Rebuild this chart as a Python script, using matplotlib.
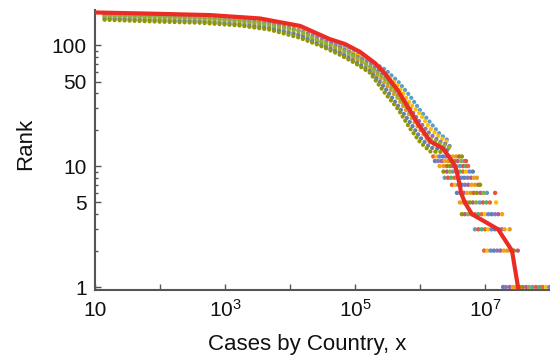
import matplotlib
matplotlib.use('Agg')
import matplotlib.pyplot as plt
from matplotlib.ticker import NullLocator, FixedLocator

plt.rcParams['font.family'] = ['Liberation Sans', 'DejaVu Sans']
plt.rcParams['mathtext.fontset'] = 'custom'
plt.rcParams['mathtext.rm'] = 'Liberation Sans'
plt.rcParams['mathtext.it'] = 'Liberation Sans:italic'

# observed cases per country, sorted by rank
OBS_RANK = [186, 182, 177, 166, 144, 112, 102, 88, 71, 58, 42, 23, 16, 14, 11,
            10, 9, 8, 7, 6, 5, 4, 3, 2, 1]
OBS_CASES = [10, 70, 590, 3450, 14300, 41000, 70000, 119000, 203000, 290000,
             459000, 899000, 1.43e6, 2.26e6, 3.1e6, 3.46e6, 3.7e6, 3.84e6,
             4.1e6, 4.27e6, 4.9e6, 6.3e6, 1.59e7, 2.6e7, 3.22e7]

# simulated runs: rank reached at each case level (ranks above ~13)
SIM_CASES = [14, 35, 100, 400, 1700, 4900, 14000, 29000, 59000, 1.0e5, 1.7e5,
             2.9e5, 4.6e5, 7.0e5, 1.0e6, 1.43e6, 2.0e6, 2.9e6]
SIM_A = [180, 178, 175, 173, 166, 156, 141, 119, 101, 86, 74, 63, 50, 38, 29, 23, 18.5, 15.8]
SIM_B = [178, 176, 174, 169, 164, 153, 136, 117, 97, 84, 72, 58, 46, 33, 27, 20.5, 17.4, 15.2]
SIM_C = [176, 173, 172, 168, 160, 151, 132, 113, 96, 82, 71, 54, 41, 30, 23, 18.4, 16.0, 14.6]
SIM_D = [174, 172, 169, 166, 158, 147, 130, 108, 93, 80, 67, 52, 38, 28, 21.2, 16.9, 15.4, 14.2]
SIM_E = [169, 166, 164, 160, 153, 143, 123, 106, 88, 77, 65, 48, 36, 26, 19.9, 15.6, 14.5, 13.9]
SIM_F = [166, 163, 160, 157, 148, 138, 120, 101, 86, 73, 61, 44, 31.5, 23, 17.3, 14.2, 13.8, 13.4]
SIM_G = [162, 159, 156, 153, 145, 134, 115, 99, 83, 71, 59, 40, 29.5, 20.5, 15.8, 13.2, 13.1, 13.0]
SIM_RUNS = [SIM_A, SIM_B, SIM_C, SIM_E, SIM_F, SIM_G, SIM_D]

# simulated cases of the top-ranked countries, one row per rank
ROW_RANKS = [1, 2, 3, 4, 5, 6, 7, 8, 9, 10, 11, 12]
ROW_CASES = [
    [1.9e7, 2.1e7, 2.4e7, 2.7e7, 3.0e7, 3.4e7, 3.8e7, 4.3e7, 4.8e7, 5.4e7, 6.1e7, 6.9e7, 7.7e7, 8.7e7, 9.8e7],
    [9.7e6, 1.09e7, 1.22e7, 1.37e7, 1.54e7, 1.73e7, 1.95e7, 2.2e7, 2.5e7, 2.8e7, 3.2e7],
    [7.0e6, 7.9e6, 8.9e6, 1.0e7, 1.12e7, 1.26e7, 1.42e7, 1.6e7, 1.8e7, 2.0e7, 2.4e7],
    [4.4e6, 4.9e6, 5.5e6, 6.2e6, 7.0e6, 7.9e6, 8.9e6, 1.0e7, 1.12e7, 1.26e7, 1.42e7, 1.6e7, 1.83e7],
    [4.1e6, 4.6e6, 5.2e6, 5.8e6, 6.5e6, 7.3e6, 8.3e6, 9.3e6, 1.05e7, 1.19e7, 1.48e7],
    [3.7e6, 4.2e6, 4.7e6, 5.3e6, 6.0e6, 6.7e6, 7.5e6, 8.5e6, 9.5e6, 1.07e7, 1.43e7],
    [3.1e6, 3.5e6, 3.9e6, 4.4e6, 4.9e6, 5.5e6, 6.2e6, 7.0e6, 7.9e6, 8.4e6],
    [2.4e6, 2.7e6, 3.0e6, 3.4e6, 3.8e6, 4.3e6, 4.8e6, 5.4e6, 6.1e6, 6.8e6, 7.5e6],
    [2.3e6, 2.6e6, 2.9e6, 3.2e6, 3.6e6, 4.1e6, 4.6e6, 5.1e6, 5.8e6, 6.5e6],
    [2.0e6, 2.3e6, 2.6e6, 2.9e6, 3.2e6, 3.6e6, 4.1e6, 4.6e6, 5.1e6, 5.5e6],
    [1.7e6, 1.9e6, 2.15e6, 2.4e6, 2.7e6, 3.0e6, 3.4e6, 3.8e6, 4.3e6, 4.8e6, 5.1e6],
    [1.6e6, 1.8e6, 2.0e6, 2.25e6, 2.5e6, 2.8e6, 3.2e6, 3.6e6, 4.0e6, 4.4e6],
]

PALETTE = ['#5E81B5', '#E19C24', '#8FB032', '#EB6235', '#8778B3', '#C56E1A',
           '#5D9EC7', '#FFBF00', '#A5609D', '#929600', '#E95536', '#6685D9',
           '#F89F13', '#BC5B80', '#47B66D']
RUN_COLORS = ['#5D9EC7', '#FFBF00', '#8778B3', '#E19C24', '#5E81B5', '#929600', '#8FB032']

AXIS_COLOR = '#555555'
RED = '#EC2B24'

fig = plt.figure(figsize=(5.5, 3.58), dpi=100)
ax = fig.add_axes([95 / 550, 68 / 358, 455 / 550, 280 / 358])
ax.set_xscale('log')
ax.set_yscale('log')

# simulated runs as chains of dots
for run, color in zip(SIM_RUNS, RUN_COLORS):
    ax.plot(SIM_CASES, run, color=color, lw=3.0,
            linestyle=(0, (0.05, 1.15)), dash_capstyle='round', zorder=2)

# top ranks as rows of dots
for k, (rank, cases) in enumerate(zip(ROW_RANKS, ROW_CASES)):
    colors = [PALETTE[(i * 4 + k * 3) % len(PALETTE)] for i in range(len(cases))]
    ax.scatter(cases, [rank] * len(cases), s=10, c=colors, linewidths=0, zorder=3)

# observed data
ax.plot(OBS_CASES, OBS_RANK, color=RED, lw=3, solid_joinstyle='round', zorder=4)

ax.set_xlim(10, 1e8)
ax.set_ylim(0.945, 195)

ax.xaxis.set_major_locator(FixedLocator([10, 1e2, 1e3, 1e4, 1e5, 1e6, 1e7]))
ax.set_xticklabels(['10', '', '$10^{3}$', '', '$10^{5}$', '', '$10^{7}$'])
ax.xaxis.set_minor_locator(NullLocator())
ax.yaxis.set_major_locator(FixedLocator([1, 5, 10, 50, 100]))
ax.set_yticklabels(['1', '5', '10', '50', '100'])
ax.yaxis.set_minor_locator(FixedLocator([2, 3, 4, 6, 7, 8, 9, 20, 30, 40, 60, 70, 80, 90]))

ax.tick_params(which='both', direction='in', color=AXIS_COLOR, width=1,
               labelsize=15, labelcolor='#111111')
ax.tick_params(which='major', length=4)
ax.tick_params(which='minor', length=2)
ax.tick_params(axis='x', pad=19)
ax.tick_params(axis='y', pad=6)
for lbl in ax.get_xticklabels():
    lbl.set_verticalalignment('baseline')

for side in ['top', 'right']:
    ax.spines[side].set_visible(False)
for side in ['left', 'bottom']:
    ax.spines[side].set_color(AXIS_COLOR)
    ax.spines[side].set_linewidth(1.5)

ax.set_xlabel('Cases by Country, x', fontsize=16, color='#111111')
ax.xaxis.set_label_coords(0.466, -0.196)
ax.xaxis.label.set_verticalalignment('center')
ax.set_ylabel('Rank', fontsize=16, color='#111111')
ax.yaxis.set_label_coords(-0.152, 0.52)
ax.yaxis.label.set_verticalalignment('center')

fig.savefig('out.png', dpi=100)
